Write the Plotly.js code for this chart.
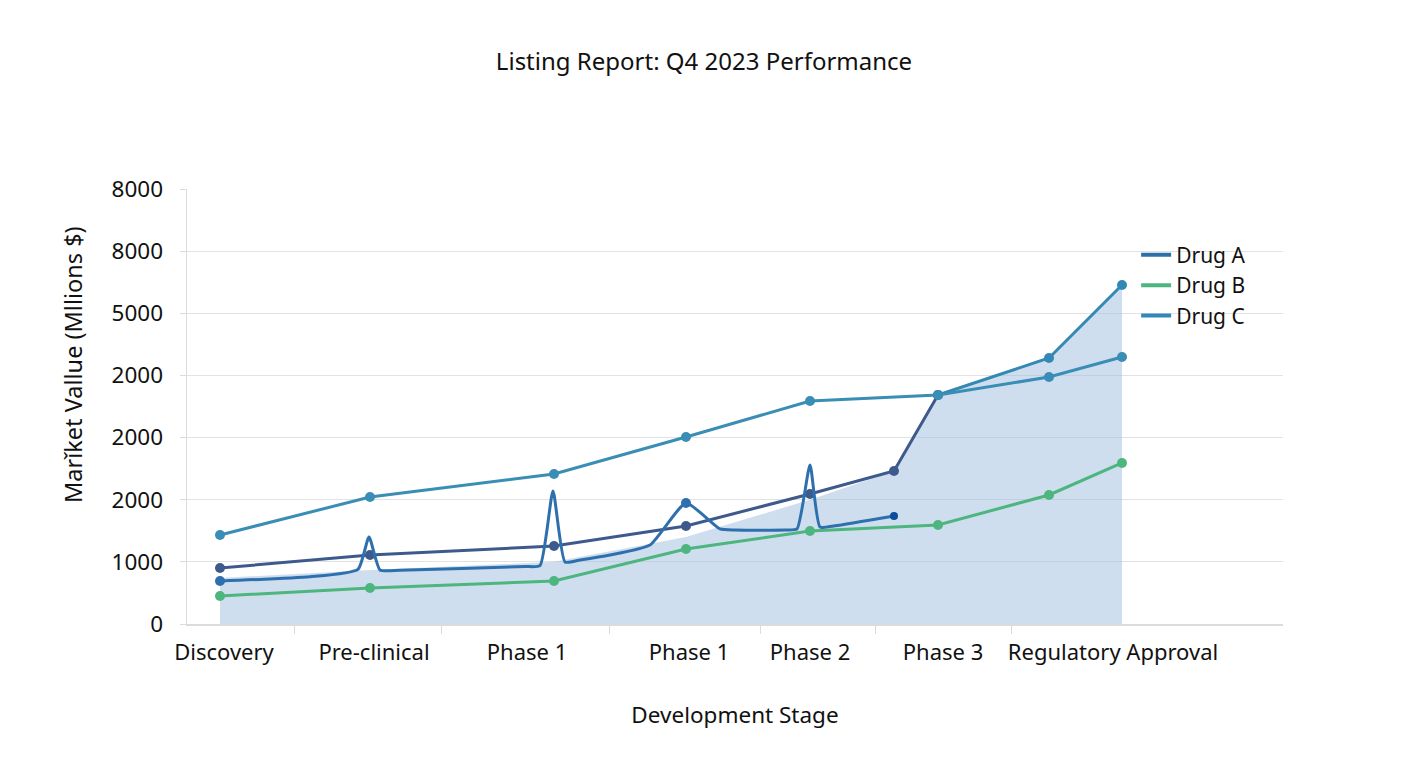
<!DOCTYPE html>
<html>
<head>
<meta charset="utf-8">
<script src="https://cdn.plot.ly/plotly-3.0.1.min.js"></script>
<style>html,body{margin:0;padding:0;background:#fff;}#chart{width:1408px;height:768px;}</style>
</head>
<body>
<div id="chart"></div>
<script>
// ---- data ----
const stageLabels = ['Discovery', 'Pre-clinical', 'Phase 1', 'Phase 1', 'Phase 2', 'Phase 3', 'Regulatory Approval'];
const stageLabelPos = [0.04, 1.54, 3.07, 4.69, 5.9, 7.23, 8.93];
const stageDividers = [0.74, 2.21, 3.89, 5.4, 6.55, 7.91];

const yTickVals = [0, 1000, 2000, 3000, 4000, 5000, 6000, 7000];
const yTickText = ['0', '1000', '2000', '2000', '2000', '5000', '8000', '8000'];

// Drug A (spiky line)
const drugA_x = [0, 0.9, 1.38, 1.49, 1.6, 1.8, 3.05, 3.2, 3.33, 3.45, 3.6, 3.9, 4.3, 4.66, 5.0, 5.15, 5.65, 5.77, 5.9, 6.0, 6.15, 6.74];
const drugA_y = [692, 760, 880, 1400, 869, 865, 925, 940, 2140, 998, 1030, 1110, 1271, 1947, 1530, 1513, 1513, 1530, 2558, 1561, 1580, 1738];
const drugA_mx = [0, 4.66];
const drugA_my = [692, 1947];
const drugA_endx = [6.74];
const drugA_endy = [1738];

// Drug B (green)
const drugB_x = [0, 1.5, 3.34, 4.66, 5.9, 7.18, 8.29, 9.02];
const drugB_y = [451, 579, 692, 1207, 1496, 1593, 2076, 2591];

// Drug C (top teal line)
const drugC_x = [0, 1.5, 3.34, 4.66, 5.9, 7.18, 8.29, 9.02];
const drugC_y = [1432, 2044, 2414, 3009, 3588, 3685, 3974, 4296];

// unlabeled navy line
const navy_x = [0, 1.5, 3.34, 4.66, 5.9, 6.74, 7.18];
const navy_y = [901, 1110, 1255, 1577, 2092, 2462, 3685];

// upper right branch
const upper_x = [7.18, 8.29, 9.02];
const upper_y = [3685, 4280, 5455];

// shaded area top
const area_x = [0, 1.5, 3.34, 4.66, 5.9, 6.74, 7.18, 8.29, 9.02];
const area_y = [740, 870, 1000, 1400, 2000, 2462, 3685, 4280, 5455];

const FONT = 'Noto Sans, Open Sans, sans-serif';

const traces = [
  {
    x: area_x, y: area_y, type: 'scatter', mode: 'none', fill: 'tozeroy',
    fillcolor: 'rgba(160,190,222,0.5)', showlegend: false, hoverinfo: 'skip'
  },
  {
    x: drugB_x, y: drugB_y, type: 'scatter', mode: 'lines+markers', name: 'Drug B',
    line: {color: '#4db57e', width: 3}, marker: {color: '#4db57e', size: 10}, showlegend: false
  },
  {
    x: navy_x, y: navy_y, type: 'scatter', mode: 'lines+markers', name: 'navy',
    line: {color: '#3e5a8c', width: 3}, marker: {color: '#3e5a8c', size: 10}, showlegend: false
  },
  {
    x: upper_x, y: upper_y, type: 'scatter', mode: 'lines+markers', name: 'upper',
    line: {color: '#3489b4', width: 3}, marker: {color: '#3489b4', size: 10}, showlegend: false
  },
  {
    x: drugC_x, y: drugC_y, type: 'scatter', mode: 'lines+markers', name: 'Drug C',
    line: {color: '#3a8db5', width: 3}, marker: {color: '#3a8db5', size: 10}, showlegend: false
  },
  {
    x: drugA_x, y: drugA_y, type: 'scatter', mode: 'lines', name: 'Drug A',
    line: {color: '#2e6fae', width: 3, shape: 'spline', smoothing: 0.5},
    showlegend: false
  },
  {
    x: drugA_mx, y: drugA_my, type: 'scatter', mode: 'markers', name: 'Drug A pts',
    marker: {color: '#2e6fae', size: 10, opacity: 1}, showlegend: false
  },
  {
    x: drugA_endx, y: drugA_endy, type: 'scatter', mode: 'markers', name: 'Drug A end',
    marker: {color: '#0b4f9a', size: 8, opacity: 1}, showlegend: false
  },
  // legend entries
  {x: [null], y: [null], type: 'scatter', mode: 'lines', name: 'Drug A', line: {color: '#2b6ea8', width: 4}},
  {x: [null], y: [null], type: 'scatter', mode: 'lines', name: 'Drug B', line: {color: '#4db57e', width: 4}},
  {x: [null], y: [null], type: 'scatter', mode: 'lines', name: 'Drug C', line: {color: '#3487b8', width: 4}}
];

const layout = {
  width: 1408, height: 768,
  paper_bgcolor: '#ffffff', plot_bgcolor: '#ffffff',
  font: {family: FONT, color: '#111', size: 20},
  margin: {l: 187, r: 125, t: 189, b: 144},
  title: {
    text: 'Listing Report: Q4 2023 Performance',
    font: {family: FONT, size: 24, color: '#111'},
    x: 0.5, xanchor: 'center', y: 1 - 62 / 768, yanchor: 'middle'
  },
  showlegend: true,
  legend: {
    x: 0.866, xanchor: 'left', y: 0.895, yanchor: 'top',
    bgcolor: 'rgba(0,0,0,0)', font: {family: FONT, size: 21, color: '#111'},
    tracegroupgap: 0, itemwidth: 30
  },
  xaxis: {
    type: 'linear', range: [-0.33, 10.63],
    tickmode: 'array', tickvals: stageLabelPos, ticktext: stageLabels,
    ticks: '', showgrid: false, zeroline: false,
    showline: true, linecolor: '#dcdcdc', linewidth: 1.5,
    tickfont: {family: FONT, size: 22, color: '#111'},
    ticklabelstandoff: 8,
    minor: {tickmode: 'array', tickvals: stageDividers, ticks: 'outside', ticklen: 8, tickcolor: '#dcdcdc', tickwidth: 1, showgrid: false},
    title: {text: 'Development Stage', font: {family: FONT, size: 22.5, color: '#111'}, standoff: 42}
  },
  yaxis: {
    type: 'linear', range: [0, 7000],
    tickmode: 'array', tickvals: yTickVals, ticktext: yTickText,
    ticks: 'outside', ticklen: 6, tickcolor: '#dcdcdc',
    showgrid: true, gridcolor: '#e2e2e2', gridwidth: 1,
    zeroline: false, showline: true, linecolor: '#dcdcdc', linewidth: 1.5,
    tickfont: {family: FONT, size: 22.5, color: '#111'},
    ticklabelstandoff: 12
  },
  annotations: [{
    text: 'Marǐket Vallue (Mllions $)', textangle: -90,
    xref: 'paper', yref: 'paper',
    x: (73 - 187) / 1096, y: (624 - 365) / 435,
    xanchor: 'center', yanchor: 'middle', showarrow: false,
    font: {family: FONT, size: 23.5, color: '#111'}
  }]
};

Plotly.newPlot('chart', traces, layout, {staticPlot: true, displayModeBar: false});
</script>
</body>
</html>
